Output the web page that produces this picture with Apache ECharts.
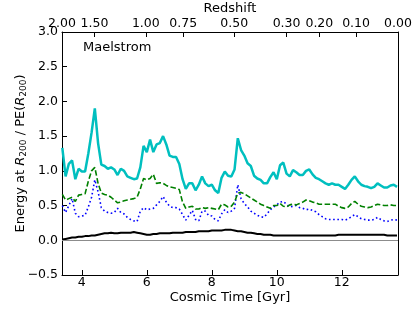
<!DOCTYPE html>
<html>
<head>
<meta charset="utf-8">
<script src="https://cdn.jsdelivr.net/npm/echarts@6/dist/echarts.min.js"></script>
<style>html,body{margin:0;padding:0;background:#fff}#c{width:415px;height:312px}</style>
</head>
<body>
<div id="c"></div>
<script>
var times = [3.4,3.5,3.6,3.7,3.8,3.9,4.0,4.1,4.2,4.3,4.4,4.5,4.6,4.7,4.8,4.9,5.0,5.1,5.2,5.3,5.4,5.5,5.6,5.7,5.8,5.9,6.0,6.1,6.2,6.3,6.4,6.5,6.6,6.7,6.8,6.9,7.0,7.1,7.2,7.3,7.4,7.5,7.6,7.7,7.8,7.9,8.0,8.1,8.2,8.3,8.4,8.5,8.6,8.7,8.8,8.9,9.0,9.1,9.2,9.3,9.4,9.5,9.6,9.7,9.8,9.9,10.0,10.1,10.2,10.3,10.4,10.5,10.6,10.7,10.8,10.9,11.0,11.1,11.2,11.3,11.4,11.5,11.6,11.7,11.8,11.9,12.0,12.1,12.2,12.3,12.4,12.5,12.6,12.7,12.8,12.9,13.0,13.1,13.2,13.3,13.4,13.5,13.6,13.7];

var cyanTotal = [1.33,0.92,1.10,1.15,0.88,1.03,0.99,0.99,1.25,1.55,1.90,1.40,1.09,1.07,1.03,1.05,1.02,0.94,1.03,1.00,0.92,0.90,0.88,0.89,1.05,1.36,1.27,1.45,1.27,1.38,1.40,1.50,1.38,1.22,1.20,1.20,1.10,0.88,0.74,0.82,0.82,0.72,0.80,0.92,0.82,0.78,0.80,0.72,0.68,0.90,0.99,0.93,0.92,1.02,1.47,1.30,1.22,1.11,1.07,0.93,0.89,0.87,0.82,0.82,0.91,0.98,0.88,1.08,1.12,0.96,0.92,1.01,0.98,0.94,0.94,1.00,1.02,0.95,0.90,0.88,0.85,0.82,0.80,0.82,0.80,0.80,0.77,0.74,0.80,0.87,0.92,0.85,0.80,0.78,0.77,0.75,0.77,0.82,0.79,0.76,0.76,0.79,0.80,0.77];

var greenDashed = [0.66,0.58,0.60,0.62,0.56,0.65,0.66,0.67,0.85,1.00,1.05,0.82,0.68,0.66,0.65,0.62,0.58,0.54,0.55,0.57,0.58,0.59,0.60,0.62,0.74,0.89,0.87,0.89,0.95,0.82,0.83,0.82,0.79,0.77,0.76,0.75,0.73,0.55,0.46,0.48,0.49,0.45,0.45,0.47,0.46,0.47,0.46,0.45,0.44,0.52,0.51,0.48,0.49,0.55,0.68,0.69,0.67,0.64,0.61,0.58,0.55,0.52,0.50,0.48,0.46,0.50,0.50,0.53,0.49,0.48,0.51,0.52,0.51,0.53,0.55,0.58,0.57,0.55,0.54,0.52,0.52,0.52,0.52,0.52,0.52,0.49,0.47,0.46,0.48,0.53,0.56,0.52,0.49,0.48,0.47,0.48,0.50,0.52,0.51,0.50,0.50,0.51,0.50,0.50];

var blueDotted = [0.50,0.40,0.50,0.60,0.39,0.34,0.35,0.36,0.48,0.62,0.87,0.70,0.47,0.42,0.40,0.39,0.40,0.46,0.40,0.38,0.33,0.30,0.28,0.27,0.42,0.47,0.44,0.45,0.46,0.51,0.56,0.63,0.55,0.49,0.47,0.47,0.45,0.37,0.29,0.36,0.43,0.30,0.28,0.42,0.42,0.36,0.35,0.30,0.28,0.38,0.44,0.40,0.42,0.46,0.80,0.60,0.53,0.48,0.42,0.39,0.36,0.34,0.33,0.38,0.44,0.48,0.51,0.55,0.56,0.52,0.48,0.49,0.50,0.47,0.46,0.44,0.45,0.43,0.41,0.37,0.34,0.31,0.30,0.30,0.30,0.30,0.30,0.29,0.31,0.34,0.37,0.34,0.31,0.30,0.29,0.29,0.30,0.33,0.30,0.28,0.27,0.29,0.30,0.29];

var blackSolid = [0.01,0.02,0.03,0.04,0.04,0.05,0.05,0.06,0.06,0.07,0.07,0.08,0.09,0.10,0.10,0.11,0.10,0.10,0.11,0.11,0.11,0.11,0.12,0.11,0.10,0.09,0.08,0.08,0.09,0.09,0.10,0.10,0.10,0.10,0.11,0.11,0.11,0.11,0.12,0.12,0.12,0.12,0.13,0.13,0.13,0.13,0.14,0.14,0.14,0.14,0.15,0.15,0.15,0.14,0.13,0.13,0.12,0.11,0.11,0.10,0.09,0.09,0.08,0.08,0.08,0.07,0.07,0.07,0.07,0.07,0.07,0.07,0.07,0.07,0.07,0.07,0.07,0.07,0.07,0.07,0.07,0.07,0.07,0.07,0.07,0.08,0.08,0.08,0.08,0.08,0.08,0.08,0.08,0.08,0.08,0.08,0.08,0.08,0.08,0.08,0.07,0.07,0.07,0.07];

var timeTicks = [4, 6, 8, 10, 12];
var redshiftLabels = ['2.00','1.50','1.00','0.75','0.50','0.30','0.20','0.10','0.00'];
var redshiftTimes = [3.39, 4.39, 5.97, 7.12, 8.69, 10.30, 11.31, 12.44, 13.73];

function pairs(v) { return times.map(function (t, i) { return [t, v[i]]; }); }

var FONT = 'DejaVu Sans';
var chart = echarts.init(document.getElementById('c'), null, {renderer: 'canvas'});
chart.setOption({
  animation: false,
  backgroundColor: '#ffffff',
  title: {
    text: 'Maelstrom', left: 83, top: 41, padding: 0,
    textStyle: {fontFamily: FONT, fontSize: 13, fontWeight: 'normal', color: '#000'}
  },
  grid: {left: 62, right: 17, top: 32, bottom: 37, containLabel: false, outerBoundsMode: 'none'},
  xAxis: [{
    type: 'value', min: 3.39, max: 13.73, position: 'bottom',
    name: 'Cosmic Time [Gyr]', nameLocation: 'middle', nameGap: 16, nameMoveOverlap: false,
    nameTextStyle: {fontFamily: FONT, fontSize: 13, color: '#000'},
    axisLine: {onZero: false, lineStyle: {color: '#000', width: 1}},
    axisTick: {inside: true, length: 5, customValues: timeTicks, lineStyle: {color: '#000'}},
    axisLabel: {customValues: timeTicks, margin: 1, fontFamily: FONT, fontSize: 12.5, color: '#000'},
    splitLine: {show: false}
  }, {
    type: 'value', min: 3.39, max: 13.73, position: 'top',
    name: 'Redshift', nameLocation: 'middle', nameGap: 17, nameMoveOverlap: false,
    nameTextStyle: {fontFamily: FONT, fontSize: 13, color: '#000'},
    axisLine: {onZero: false, lineStyle: {color: '#000', width: 1}},
    axisTick: {inside: true, length: 5, customValues: redshiftTimes, lineStyle: {color: '#000'}},
    axisLabel: {
      customValues: redshiftTimes, margin: 2, fontFamily: FONT, fontSize: 12.5, color: '#000',
      showMinLabel: true, showMaxLabel: true, hideOverlap: false,
      alignMinLabel: 'center', alignMaxLabel: 'center',
      formatter: function (v) {
        var best = 0;
        for (var i = 1; i < redshiftTimes.length; i++) {
          if (Math.abs(redshiftTimes[i] - v) < Math.abs(redshiftTimes[best] - v)) best = i;
        }
        return redshiftLabels[best];
      }
    },
    splitLine: {show: false}
  }],
  yAxis: [{
    type: 'value', min: -0.5, max: 3.0, interval: 0.5, position: 'left',
    name: '{a|Energy at }{i|R}{s|200}{a| / PE(}{i|R}{s|200}{a|)}',
    nameLocation: 'middle', nameGap: 34, nameRotate: 90, nameMoveOverlap: false,
    nameTextStyle: {
      fontFamily: FONT, fontSize: 13, color: '#000',
      rich: {
        a: {fontFamily: FONT, fontSize: 13, color: '#000', lineHeight: 15},
        i: {fontFamily: FONT, fontSize: 13, fontStyle: 'italic', color: '#000', lineHeight: 15},
        s: {fontFamily: FONT, fontSize: 9, color: '#000', verticalAlign: 'bottom', lineHeight: 9}
      }
    },
    axisLine: {onZero: false, lineStyle: {color: '#000', width: 1}},
    axisTick: {inside: true, length: 5, lineStyle: {color: '#000'}},
    axisLabel: {
      margin: 4, fontFamily: FONT, fontSize: 12.5, color: '#000',
      showMinLabel: true, showMaxLabel: true,
      verticalAlignMinLabel: 'middle', verticalAlignMaxLabel: 'middle',
      formatter: function (v) { return (v < 0 ? '\u2212' : '') + Math.abs(v).toFixed(1); }
    },
    splitLine: {show: false}
  }, {
    type: 'value', min: -0.5, max: 3.0, position: 'right',
    axisLine: {show: true, onZero: false, lineStyle: {color: '#000', width: 1}},
    axisTick: {show: false}, axisLabel: {show: false}, splitLine: {show: false}
  }],
  series: [{
    type: 'line', data: pairs(blackSolid), showSymbol: false, smooth: false, z: 2,
    lineStyle: {color: '#000000', width: 2},
    markLine: {
      silent: true, symbol: 'none', label: {show: false},
      lineStyle: {color: '#8c8c8c', width: 1, type: 'solid'},
      data: [{yAxis: 0}]
    }
  }, {
    type: 'line', data: pairs(blueDotted), showSymbol: false, smooth: false, z: 3,
    lineStyle: {color: '#0000ff', width: 1.6, type: [1.6, 2.6]}
  }, {
    type: 'line', data: pairs(greenDashed), showSymbol: false, smooth: false, z: 4,
    lineStyle: {color: '#008000', width: 1.6, type: [5.5, 2.5]}
  }, {
    type: 'line', data: pairs(cyanTotal), showSymbol: false, smooth: false, z: 5,
    lineStyle: {color: '#00bfbf', width: 2.5}
  }]
});
</script>
</body>
</html>
